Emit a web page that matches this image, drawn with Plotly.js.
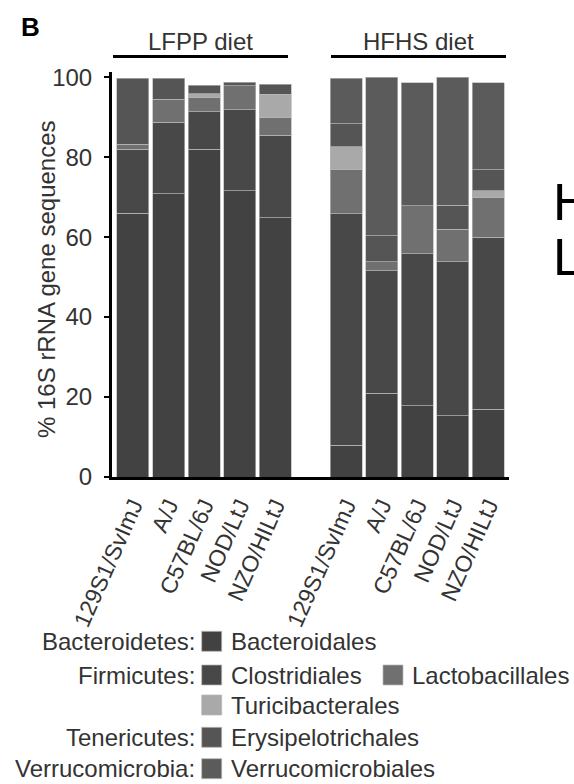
<!DOCTYPE html>
<html><head><meta charset="utf-8">
<script src="https://cdn.plot.ly/plotly-3.0.1.min.js"></script>
<style>html,body{margin:0;padding:0;background:#fff}#chart{width:574px;height:784px}</style>
</head><body><div id="chart"></div>
<script>
// ---------- data ----------
const strains = ['129S1/SvImJ', 'A/J', 'C57BL/6J', 'NOD/LtJ', 'NZO/HILtJ'];
const diets = ['LFPP diet', 'HFHS diet'];
const orders = ['Bacteroidales', 'Clostridiales', 'Lactobacillales', 'Turicibacterales', 'Erysipelotrichales', 'Verrucomicrobiales'];
const phyla = ['Bacteroidetes:', 'Firmicutes:', 'Tenericutes:', 'Verrucomicrobia:'];
const yTicks = [0, 20, 40, 60, 80, 100];

const bacteroidalesLFPP      = [66.0, 70.8, 82.0, 71.6, 64.8];
const bacteroidalesHFHS      = [8.0, 21.0, 17.8, 15.3, 16.9];
const clostridialesLFPP      = [16.0, 17.9, 9.3, 20.3, 20.7];
const clostridialesHFHS      = [57.8, 30.6, 38.1, 38.5, 43.1];
const lactobacillalesLFPP    = [1.2, 5.8, 3.5, 5.9, 4.3];
const lactobacillalesHFHS    = [11.1, 2.2, 11.9, 8.2, 9.8];
const turicibacteralesLFPP   = [0, 0, 1.0, 0, 5.9];
const turicibacteralesHFHS   = [5.7, 0, 0, 0, 1.8];
const erysipelotrichalesLFPP = [16.5, 5.2, 2.2, 1.0, 2.5];
const erysipelotrichalesHFHS = [5.8, 6.5, 0, 6.0, 5.2];
const verrucomicrobialesLFPP = [0, 0, 0, 0, 0];
const verrucomicrobialesHFHS = [11.4, 39.7, 30.8, 32.0, 21.8];

// ---------- styles ----------
const colors = ['#424242', '#484848', '#707070', '#a9a9a9', '#555555', '#5b5b5b'];
const FONT = 'Liberation Sans, Arial, sans-serif';
const TXT = '#333333';

const seriesLF = [bacteroidalesLFPP, clostridialesLFPP, lactobacillalesLFPP, turicibacteralesLFPP, erysipelotrichalesLFPP, verrucomicrobialesLFPP];
const seriesHF = [bacteroidalesHFHS, clostridialesHFHS, lactobacillalesHFHS, turicibacteralesHFHS, erysipelotrichalesHFHS, verrucomicrobialesHFHS];

const keysLF = strains.map(s => diets[0] + ' ' + s);
const keysHF = strains.map(s => diets[1] + ' ' + s);
const catOrder = [...keysLF, 'spacer', ...keysHF];

const traces = orders.map((o, i) => ({
  type: 'bar',
  name: o,
  x: [...keysLF, ...keysHF],
  y: [...seriesLF[i], ...seriesHF[i]].map(v => v === 0 ? null : v),
  marker: {color: colors[i], line: {color: '#b8b8b8', width: 0.7}},
  hoverinfo: 'skip'
}));

// pixel helpers for decorations (plot area: x 112..509, y 72..477)
const L = 112, R = 509, T = 72, B = 477;
const px = v => (v - L) / (R - L);
const py = v => (B - v) / (B - T);

const ann = [];
const shapes = [];
function text(t, x, y, opts) {
  ann.push(Object.assign({text: t, x: px(x), y: py(y), xref: 'paper', yref: 'paper',
    showarrow: false, xanchor: 'center', yanchor: 'middle',
    font: {family: FONT, size: 24, color: TXT}}, opts || {}));
}
// panel letter
text('<b>B</b>', 30, 27, {font: {family: FONT, size: 26, color: '#000'}});
// group headers
text(diets[0], 200, 42);
text(diets[1], 418.5, 42);
shapes.push({type: 'line', xref: 'paper', yref: 'paper', x0: px(113), x1: px(288), y0: py(56.5), y1: py(56.5), line: {color: '#000', width: 3}});
shapes.push({type: 'line', xref: 'paper', yref: 'paper', x0: px(331), x1: px(506), y0: py(56.5), y1: py(56.5), line: {color: '#000', width: 3}});
// y title
text('% 16S rRNA gene sequences', 46, 279, {textangle: -90});
// letters of a neighbouring panel, cut by the right edge as in the reference
text('H', 551, 202, {xanchor: 'left', font: {family: FONT, size: 52, color: '#000'}});
text('L', 551, 257, {xanchor: 'left', font: {family: FONT, size: 52, color: '#000'}});

// legend
const rows = [641.3, 675, 705, 737.3, 768.7];
const legendItems = [
  {phylum: phyla[0], order: 0, row: 0, sx: 201.7},
  {phylum: phyla[1], order: 1, row: 1, sx: 201.7},
  {phylum: null, order: 2, row: 1, sx: 383},
  {phylum: null, order: 3, row: 2, sx: 201.7},
  {phylum: phyla[2], order: 4, row: 3, sx: 201.7},
  {phylum: phyla[3], order: 5, row: 4, sx: 201.7}
];
legendItems.forEach(it => {
  const yc = rows[it.row];
  if (it.phylum) text(it.phylum, 197, yc, {xanchor: 'right'});
  shapes.push({type: 'rect', xref: 'paper', yref: 'paper', x0: px(it.sx), x1: px(it.sx + 20), y0: py(yc - 10), y1: py(yc + 10),
    fillcolor: colors[it.order], line: {color: '#b8b8b8', width: 0.7}});
  text(orders[it.order], it.sx + 27, yc, {xanchor: 'left'});
});

const layout = {
  width: 574, height: 784,
  margin: {l: L, r: 574 - R, t: T, b: 784 - B, pad: 0},
  paper_bgcolor: '#fff', plot_bgcolor: '#fff',
  barmode: 'stack', bargap: 0.1,
  showlegend: false,
  font: {family: FONT, size: 24, color: TXT},
  xaxis: {
    type: 'category', categoryorder: 'array', categoryarray: catOrder,
    range: [-0.59, 10.58],
    tickvals: [...keysLF, ...keysHF], ticktext: [...strains, ...strains],
    tickangle: -66, ticks: '', showgrid: false, zeroline: false,
    showline: true, linecolor: '#000', linewidth: 3,
    ticklabelstandoff: 3,
    tickfont: {family: FONT, size: 23, color: TXT}
  },
  yaxis: {
    range: [0, 101.3], tickvals: yTicks, ticks: 'outside', ticklen: 5, tickwidth: 2, tickcolor: '#000',
    showgrid: false, zeroline: false, showline: true, linecolor: '#000', linewidth: 3,
    ticklabelstandoff: 7,
    tickfont: {family: FONT, size: 24, color: TXT}
  },
  annotations: ann,
  shapes: shapes
};

Plotly.newPlot('chart', traces, layout, {staticPlot: true, displayModeBar: false});
</script>
</body></html>
